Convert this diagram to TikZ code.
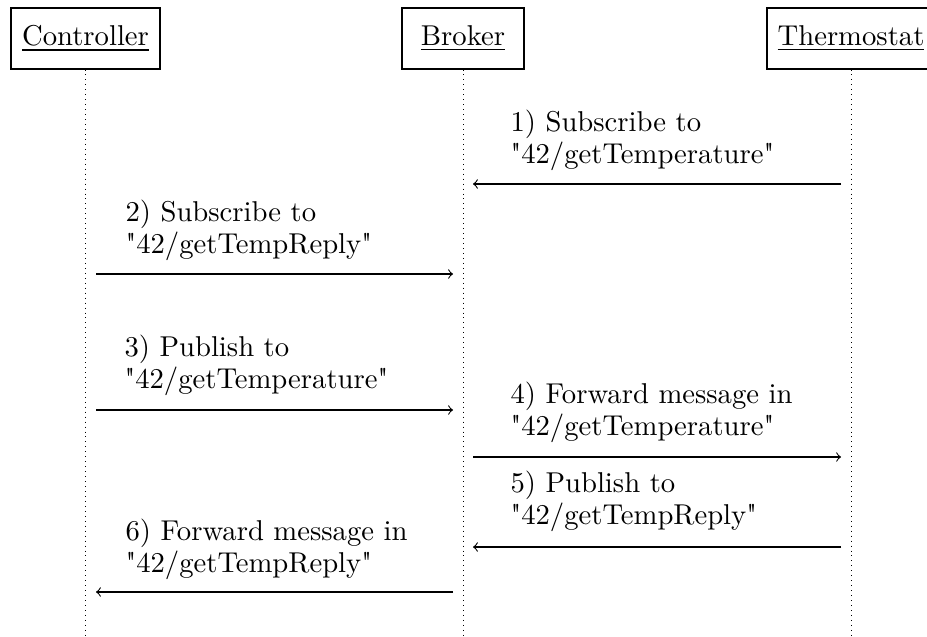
\documentclass[tikz,border=0pt]{standalone}
\usepackage{fontspec}
\begin{document}
\begin{tikzpicture}[x=0.3731pt,y=-0.3731pt,
  font=\fontsize{10.7}{11.75}\selectfont,
  inst/.style={draw, line width=0.4pt, minimum height=22.76pt, inner sep=0pt},
  life/.style={line width=0.35pt, dash pattern=on 0.35pt off 1.5pt},
  msg/.style={->, line width=0.4pt},
  lbl/.style={anchor=base west, inner sep=0pt}]
\useasboundingbox (0,0) rectangle (927,636);
\clip (0,0) rectangle (927,636);
% instances
\node[inst, minimum width=55.6pt] (C) at (85.5,38.5) {\underline{Controller}};
\node[inst, minimum width=45.5pt] (B) at (463,38.5) {\underline{Broker}};
\node[inst, minimum width=62.7pt] (T) at (851,38.5) {\underline{Thermostat}};
% lifelines
\coordinate (Cend) at (85.5,636);
\coordinate (Bend) at (463,636);
\coordinate (Tend) at (851,636);
\draw[life] (C.south) -- (Cend);
\draw[life] (B.south) -- (Bend);
\draw[life] (T.south) -- (Tend);
% message endpoints
\coordinate (m1s) at (841,184); \coordinate (m1e) at (473,184);
\coordinate (m2s) at (96,274);  \coordinate (m2e) at (453,274);
\coordinate (m3s) at (96,410);  \coordinate (m3e) at (453,410);
\coordinate (m4s) at (473,457); \coordinate (m4e) at (841,457);
\coordinate (m5s) at (841,547); \coordinate (m5e) at (473,547);
\coordinate (m6s) at (453,592); \coordinate (m6e) at (96,592);
\draw[msg] (m1s) -- (m1e);
\draw[msg] (m2s) -- (m2e);
\draw[msg] (m3s) -- (m3e);
\draw[msg] (m4s) -- (m4e);
\draw[msg] (m5s) -- (m5e);
\draw[msg] (m6s) -- (m6e);
% labels
\node[lbl] (l1) at (510,163) {\begin{tabular}[b]{@{}l@{}}1) Subscribe to\\\textquotedbl 42/getTemperature\textquotedbl\end{tabular}};
\node[lbl] (l2) at (125,253) {\begin{tabular}[b]{@{}l@{}}2) Subscribe to\\\textquotedbl 42/getTempReply\textquotedbl\end{tabular}};
\node[lbl] (l3) at (124,388) {\begin{tabular}[b]{@{}l@{}}3) Publish to\\\textquotedbl 42/getTemperature\textquotedbl\end{tabular}};
\node[lbl] (l4) at (510,435) {\begin{tabular}[b]{@{}l@{}}4) Forward message in\\\textquotedbl 42/getTemperature\textquotedbl\end{tabular}};
\node[lbl] (l5) at (510,524) {\begin{tabular}[b]{@{}l@{}}5) Publish to\\\textquotedbl 42/getTempReply\textquotedbl\end{tabular}};
\node[lbl] (l6) at (125,572) {\begin{tabular}[b]{@{}l@{}}6) Forward message in\\\textquotedbl 42/getTempReply\textquotedbl\end{tabular}};
\end{tikzpicture}
\end{document}
